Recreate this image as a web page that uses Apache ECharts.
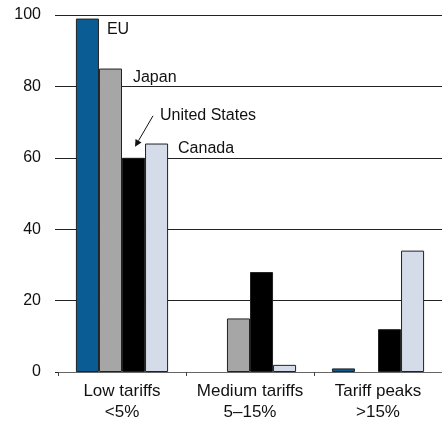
<!DOCTYPE html>
<html>
<head>
<meta charset="utf-8">
<script src="https://cdn.jsdelivr.net/npm/echarts@6/dist/echarts.min.js"></script>
<style>
  html, body { margin: 0; padding: 0; background: #fff; }
  #chart { width: 442px; height: 423px; }
</style>
</head>
<body>
<div id="chart"></div>
<script>
const categories = ['Low tariffs\n<5%', 'Medium tariffs\n5\u201315%', 'Tariff peaks\n>15%'];
const euValues = [99, 0, 1];
const japanValues = [85, 15, 0];
const usValues = [60, 28, 12];
const canadaValues = [64, 2, 34];
const yTicks = [0, 20, 40, 60, 80, 100];

const font = '"Liberation Sans", Arial, sans-serif';

// zero bars are not drawn in the original; label only on the first bar
const buildData = (values, text, pos) => values.map((v, i) => {
    if (v === 0) return '-';
    if (i !== 0 || !pos) return v;
    return {
        value: v,
        label: {
            show: true,
            formatter: text,
            position: pos,
            align: 'left',
            verticalAlign: 'middle',
            color: '#111',
            fontSize: 16,
            fontFamily: font
        }
    };
});

const barSeries = (name, values, color, labelPos) => ({
    name: name,
    type: 'bar',
    data: buildData(values, name, labelPos),
    barGap: '0%',
    barCategoryGap: '28%',
    itemStyle: { color: color, borderColor: '#222', borderWidth: 1 },
    animation: false
});

const chart = echarts.init(document.getElementById('chart'));

chart.setOption({
    grid: { left: 58, right: -7, top: 15, bottom: 49 },
    xAxis: {
        type: 'category',
        data: categories,
        axisLine: { lineStyle: { color: '#666', width: 1 } },
        axisTick: { show: true, length: 4, lineStyle: { color: '#444' } },
        axisLabel: { color: '#111', fontSize: 17, lineHeight: 21, margin: 9, fontFamily: font, interval: 0 }
    },
    yAxis: {
        type: 'value',
        min: yTicks[0],
        max: yTicks[yTicks.length - 1],
        interval: 20,
        axisLine: { show: false },
        axisTick: { show: true, length: 3, lineStyle: { color: '#222' } },
        axisLabel: { color: '#111', fontSize: 16, margin: 17, fontFamily: font },
        splitLine: { lineStyle: { color: '#222', width: 1 } }
    },
    series: [
        barSeries('EU', euValues, '#0a5d94', [31, 11]),
        barSeries('Japan', japanValues, '#a6a6a6', [34, 9]),
        barSeries('United States', usValues, '#000000', [38, -42]),
        barSeries('Canada', canadaValues, '#d4dbe9', [33, 5])
    ]
});

// arrow pointing at the US bar
const p = chart.convertToPixel({ xAxisIndex: 0, yAxisIndex: 0 }, [categories[0], usValues[0]]);
const x1 = p[0] + 31, y1 = p[1] - 42, x2 = p[0] + 13, y2 = p[1] - 11;
const ang = Math.atan2(y2 - y1, x2 - x1);
const hl = 7, hw = 3.5;
const bx = x2 - hl * Math.cos(ang), by = y2 - hl * Math.sin(ang);
chart.setOption({
    graphic: [
        { type: 'line', shape: { x1: x1, y1: y1, x2: bx, y2: by }, style: { stroke: '#111', lineWidth: 1 } },
        {
            type: 'polygon',
            shape: { points: [
                [x2, y2],
                [bx + hw * Math.sin(ang), by - hw * Math.cos(ang)],
                [bx - hw * Math.sin(ang), by + hw * Math.cos(ang)]
            ] },
            style: { fill: '#111' }
        }
    ]
});
</script>
</body>
</html>
